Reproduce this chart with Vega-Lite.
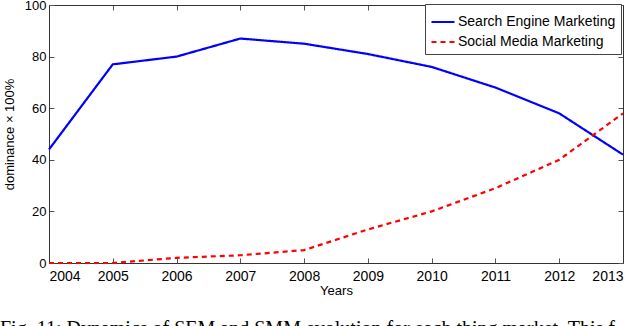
{
  "$schema": "https://vega.github.io/schema/vega-lite/v6.json",
  "autosize": {"type": "none"},
  "width": 574,
  "height": 258,
  "padding": {"left": 49, "top": 5, "right": 17, "bottom": 63},
  "background": "white",
  "config": {
    "font": "Liberation Sans",
    "view": {"stroke": null},
    "axis": {"grid": false, "domainColor": "#333", "tickColor": "#555", "labelColor": "black", "titleColor": "black", "labelFontSize": 13, "titleFontSize": 13, "titleFontWeight": "normal", "tickSize": -5, "domainWidth": 1}
  },
  "title": {
    "text": "Fig. 11:   Dynamics of SEM and SMM evolution for each thing market. This f",
    "orient": "bottom",
    "anchor": "start",
    "frame": "group",
    "baseline": "top",
    "dx": -49,
    "offset": 22,
    "font": "Liberation Serif",
    "fontSize": 20,
    "fontWeight": "normal",
    "color": "black"
  },
  "data": {
    "values": [
      {"year": 2004, "value": 44, "series": "Search Engine Marketing"},
      {"year": 2005, "value": 77, "series": "Search Engine Marketing"},
      {"year": 2006, "value": 80, "series": "Search Engine Marketing"},
      {"year": 2007, "value": 87, "series": "Search Engine Marketing"},
      {"year": 2008, "value": 85, "series": "Search Engine Marketing"},
      {"year": 2009, "value": 81, "series": "Search Engine Marketing"},
      {"year": 2010, "value": 76, "series": "Search Engine Marketing"},
      {"year": 2011, "value": 68, "series": "Search Engine Marketing"},
      {"year": 2012, "value": 58, "series": "Search Engine Marketing"},
      {"year": 2013, "value": 42, "series": "Search Engine Marketing"},
      {"year": 2004, "value": 0, "series": "Social Media Marketing"},
      {"year": 2005, "value": 0, "series": "Social Media Marketing"},
      {"year": 2006, "value": 2, "series": "Social Media Marketing"},
      {"year": 2007, "value": 3, "series": "Social Media Marketing"},
      {"year": 2008, "value": 5, "series": "Social Media Marketing"},
      {"year": 2009, "value": 13, "series": "Social Media Marketing"},
      {"year": 2010, "value": 20, "series": "Social Media Marketing"},
      {"year": 2011, "value": 29, "series": "Social Media Marketing"},
      {"year": 2012, "value": 40, "series": "Social Media Marketing"},
      {"year": 2013, "value": 58, "series": "Social Media Marketing"}
    ]
  },
  "layer": [
    {
      "mark": {"type": "line", "strokeWidth": 2.2},
      "encoding": {
        "x": {"field": "year", "type": "quantitative", "scale": {"domain": [2004, 2013], "nice": false, "zero": false},
              "axis": {"title": "Years", "format": "d", "labelFontSize": 14, "values": [2004,2005,2006,2007,2008,2009,2010,2011,2012,2013], "labelPadding": 11, "titlePadding": 1}},
        "y": {"field": "value", "type": "quantitative", "scale": {"domain": [0, 100], "nice": false},
              "axis": {"title": "dominance × 100%", "values": [0,20,40,60,80,100], "labelPadding": 8, "titlePadding": 8}},
        "color": {"field": "series", "type": "nominal",
                  "scale": {"domain": ["Search Engine Marketing", "Social Media Marketing"], "range": ["#0000ff", "#ff0000"]},
                  "legend": {"title": null, "orient": "none", "legendX": 376, "legendY": -1, "strokeColor": "#444", "fillColor": "white", "padding": 5, "labelFontSize": 14, "labelColor": "black", "symbolType": "stroke", "symbolSize": 530, "symbolStrokeWidth": 2, "rowPadding": -8, "labelOffset": 2}},
        "strokeDash": {"field": "series", "type": "nominal",
                       "scale": {"domain": ["Search Engine Marketing", "Social Media Marketing"], "range": [[1, 0], [5, 4]]},
                       "legend": null}
      }
    },
    {
      "mark": {"type": "line", "opacity": 0},
      "encoding": {
        "x": {"field": "year", "type": "quantitative", "axis": {"orient": "top", "labels": false, "title": null, "values": [2004,2005,2006,2007,2008,2009,2010,2011,2012,2013]}},
        "y": {"field": "value", "type": "quantitative", "axis": {"orient": "right", "labels": false, "title": null, "values": [0,20,40,60,80,100]}},
        "detail": {"field": "series"}
      }
    }
  ],
  "resolve": {"axis": {"x": "independent", "y": "independent"}}
}
